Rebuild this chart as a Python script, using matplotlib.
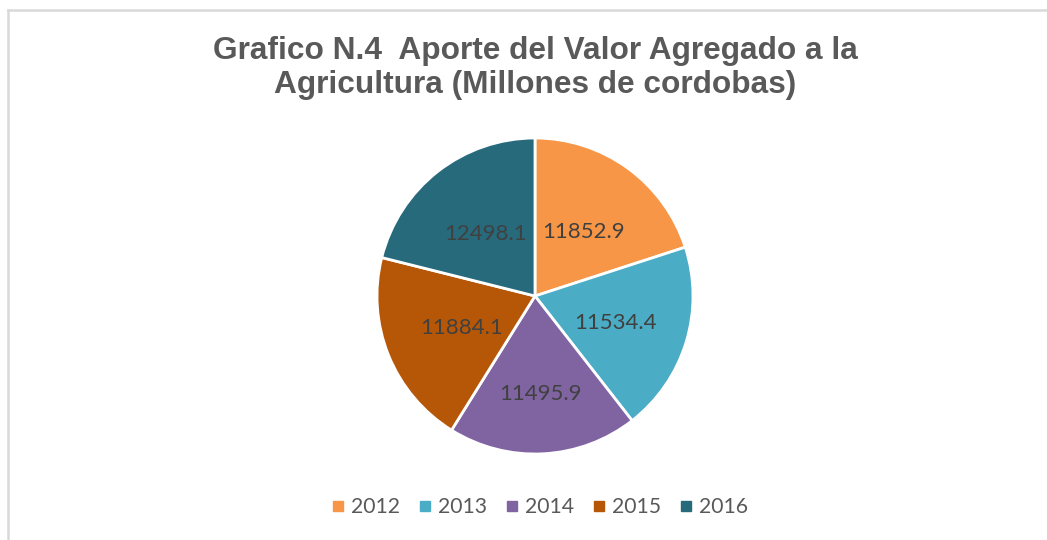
import matplotlib
matplotlib.use("Agg")
import numpy as np
import matplotlib.pyplot as plt
from matplotlib.lines import Line2D

years = ["2012", "2013", "2014", "2015", "2016"]
values = [11852.9, 11534.4, 11495.9, 11884.1, 12498.1]
colors = ["#F79646", "#4BACC6", "#8064A2", "#B65708", "#276A7C"]
title = "Grafico N.4  Aporte del Valor Agregado a la\nAgricultura (Millones de cordobas)"

W, H = 1047, 540
fig = plt.figure(figsize=(W / 100, H / 100), dpi=100)

cx, cy, r = 535, 296, 158
ax = fig.add_axes([(cx - r) / W, (H - cy - r) / H, 2 * r / W, 2 * r / H])
wedges, texts = ax.pie(values, colors=colors, startangle=90, counterclock=False,
                       labels=[f"{v:.1f}" for v in values], labeldistance=0.5,
                       wedgeprops=dict(edgecolor="white", linewidth=2.0),
                       textprops=dict(color="#404040", fontsize=16, family=["Lato", "DejaVu Sans"]))
label_frac = [0.52, 0.53, 0.61, 0.50, 0.51]
for w, t, f in zip(wedges, texts, label_frac):
    th = np.deg2rad((w.theta1 + w.theta2) / 2)
    t.set_position((f * np.cos(th), f * np.sin(th)))
    t.set_ha("center")
    t.set_va("center_baseline")
ax.set_xlim(-1, 1)
ax.set_ylim(-1, 1)
ax.set_aspect("equal")

fig.text(cx / W, 1 - 68 / H, title, ha="center", va="center", fontsize=22.8,
         fontweight="bold", color="#595959", family=["Liberation Sans", "DejaVu Sans"],
         linespacing=1.2)

handles = [Line2D([], [], marker="s", linestyle="none", markersize=6.5,
                  markerfacecolor=c, markeredgecolor=c) for c in colors]
fig.legend(handles, years, loc="center", bbox_to_anchor=(540 / W, 1 - 507 / H), ncol=5,
           frameon=False, handlelength=0.6, handletextpad=0.3, columnspacing=0.9,
           prop=dict(family=["Lato", "DejaVu Sans"], size=15.2), labelcolor="#595959")

fig.add_artist(Line2D([8 / W, 8 / W], [0, 1 - 9.5 / H], transform=fig.transFigure,
                      color="#D9D9D9", linewidth=1.8))
fig.add_artist(Line2D([8 / W, 1], [1 - 9.5 / H, 1 - 9.5 / H], transform=fig.transFigure,
                      color="#D9D9D9", linewidth=1.8))

fig.savefig("out.png", dpi=100, facecolor="white")
